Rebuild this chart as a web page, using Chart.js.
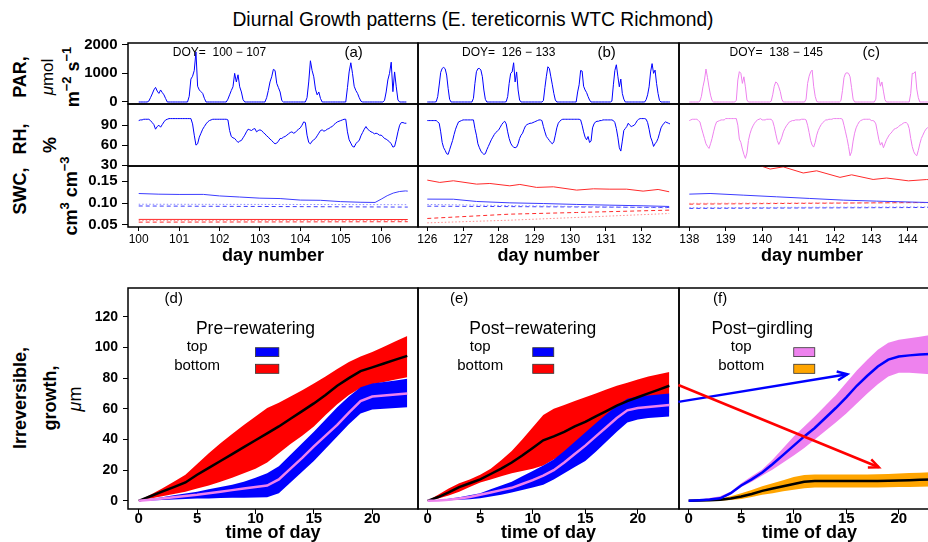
<!DOCTYPE html>
<html>
<head>
<meta charset="utf-8">
<title>Diurnal Growth patterns</title>
<script src="https://cdn.jsdelivr.net/npm/chart.js@4.4.1/dist/chart.umd.min.js"></script>
<style>
  body { margin: 0; background: #fff; }
  #page { position: relative; width: 928px; height: 542px; overflow: hidden; font-family: "Liberation Sans", Arial, sans-serif; color: #000; }
  #page canvas { position: absolute; }
  .t { position: absolute; white-space: nowrap; transform: translate(-50%, -50%); line-height: 1; }
  .r { transform: translate(-50%, -50%) rotate(-90deg); font-weight: bold; font-size: 18px; }
  sup { font-size: 72%; vertical-align: 0.6em; line-height: 0; }
</style>
</head>
<body>
<div id="page">
  <div class="t" style="left:473px;top:20px;font-size:19.3px">Diurnal Growth patterns (E. tereticornis WTC Richmond)</div>
  <div class="t r" style="left:20px;top:77px">PAR,</div>
  <div class="t r" style="left:47px;top:77px;font-weight:normal;font-size:17px"><i>μ</i>mol</div>
  <div class="t r" style="left:73px;top:77px">m<sup>−2</sup> s<sup>−1</sup></div>
  <div class="t r" style="left:20px;top:139px">RH,</div>
  <div class="t r" style="left:50px;top:145px">%</div>
  <div class="t r" style="left:20px;top:191px">SWC,</div>
  <div class="t r" style="left:71px;top:196px">cm<sup>3</sup> cm<sup>−3</sup></div>
  <div class="t r" style="left:20px;top:398px">Irreversible,</div>
  <div class="t r" style="left:50px;top:398px">growth,</div>
  <div class="t r" style="left:75px;top:399px;font-weight:normal"><i>μ</i>m</div>
</div>
<script>
Chart.defaults.font.family = '"Liberation Sans", Arial, sans-serif';
Chart.defaults.color = '#000';

// ---------- top panels: hourly PAR and RH, one row per day ----------
const dayStartA = 100, dayStartB = 126, dayStartC = 138;

const parA = [
  [0,0,0,0,0,0,30,150,280,420,510,380,300,420,330,250,120,0,0,0,0,0,0,0],
  [0,0,0,0,0,0,200,800,900,1100,1750,550,420,360,300,130,0,0,0,0,0,0,0,0],
  [0,0,0,0,0,100,250,400,530,1000,700,950,530,350,80,0,0,0,0,0,0,0,0,0],
  [0,0,0,0,150,400,700,880,1140,1100,650,500,350,50,0,0,0,0,0,0,0,0,0,0],
  [0,0,0,0,150,700,1440,1100,880,450,250,350,120,0,0,0,0,0,0,0,0,0,0,0],
  [0,0,0,0,500,1050,1370,1000,550,400,300,150,30,0,0,0,0,0,0,0,0,0,0,0],
  [0,0,50,350,770,1000,1390,360,1050,530,70,0,0,0,0,0]
];
const rhA = [
  [97,98,98,99,99,99,99,97,94,91,84,88,90,87,91,95,98,99,100,100,100,100,100,100],
  [100,100,100,100,100,100,100,100,92,75,60,62,72,78,84,88,92,95,97,98,99,99,99,99],
  [99,99,99,99,99,98,82,73,71,70,67,64,66,67,71,75,80,84,83,82,84,85,80,82],
  [83,82,79,77,74,72,69,67,64,62,63,66,70,70,72,73,75,77,79,80,78,79,82,84],
  [86,90,95,94,75,64,62,66,68,70,74,78,82,83,81,82,84,85,87,88,91,93,95,96],
  [97,98,99,99,80,68,63,58,57,62,65,67,74,79,84,88,84,82,80,79,77,78,77,75],
  [75,73,70,69,67,65,62,57,58,68,80,90,94,94,93,93]
];
const parB = [
  [0,0,0,0,0,0,10,186,592,1034,1173,1208,1162,941,476,93,0,0,0,0,0,0,0,0],
  [0,0,0,0,0,0,0,128,650,1057,1162,1173,1115,883,418,93,0,0,0,0,0,0,0,0],
  [0,0,0,0,0,10,186,650,1000,1050,1370,700,1050,420,70,0,0,0,0,0,0,0,0,0],
  [0,0,0,0,0,0,50,500,900,1230,1170,880,600,300,70,0,0,0,0,0,0,0,0,0],
  [0,0,0,0,0,350,600,1100,1080,550,420,330,190,70,0,0,0,0,0,0,0,0,0,0],
  [0,0,0,0,30,600,1100,1300,900,530,800,300,100,0,0,0,0,0,0,0,0,0,0,0],
  [0,0,0,80,250,530,1050,1340,1000,1115,650,300,50,0,0,0,0,0,0,0]
];
const rhB = [
  [97,97,97,97,97,97,97,95,93,80,64,56,52,47,46,53,60,67,76,84,90,95,96,97],
  [98,98,98,98,98,98,98,98,85,75,62,56,51,48,46,47,53,58,63,68,72,76,79,81],
  [83,87,91,94,96,92,80,70,63,59,57,56,57,62,70,75,78,84,89,91,92,93,93,94],
  [95,96,97,98,98,97,88,80,73,70,67,64,62,65,75,86,93,96,98,99,99,99,99,99],
  [99,99,99,99,99,99,99,98,90,80,72,68,73,64,66,86,92,95,96,96,97,97,98,98],
  [98,98,98,98,98,97,94,85,72,56,51,66,82,85,88,93,90,88,89,90,93,97,99,100],
  [100,100,100,99,94,84,72,66,58,62,65,70,78,86,90,93,95,94,93,92]
];
const parC = [
  [0,0,0,0,0,0,0,30,200,530,770,1150,850,520,240,50,0,0,0,0,0,0,0,0],
  [0,0,0,0,0,0,0,60,770,1060,1000,650,880,530,70,0,0,0,0,0,0,0,0,0],
  [0,0,0,0,0,0,30,250,550,700,660,530,360,100,0,0,0,0,0,0,0,0,0,0],
  [0,0,0,0,0,100,650,900,1050,1115,550,200,20,0,0,0,0,0,0,0,0,0,0,0],
  [0,0,0,0,50,400,850,1000,1020,1000,880,500,100,0,0,0,0,0,0,0,0,0,0,0],
  [0,0,0,100,850,830,550,700,380,80,0,0,0,0,0,0,0,0,0,0,0,0,0,0],
  [0,0,300,1000,1000,1060,450,150,0,0,0,0,0,0,0,0,0,0,0,0]
];
const rhC = [
  [97,98,99,99,99,99,97,95,86,78,70,62,58,55,62,70,80,89,95,96,97,98,98,98],
  [100,100,100,100,100,100,100,100,90,69,64,54,46,40,48,67,77,84,89,93,96,98,99,100],
  [98,98,98,99,99,99,99,96,88,77,67,61,66,72,80,85,89,92,95,96,97,97,98,98],
  [98,98,99,99,99,98,90,79,67,60,57,64,75,82,87,91,94,96,98,98,99,99,99,100],
  [100,100,100,100,100,99,90,80,70,58,44,50,66,78,86,91,95,97,98,99,99,99,99,99],
  [97,97,96,92,80,68,60,64,56,62,68,72,76,78,81,84,85,86,88,90,91,93,94,94],
  [92,85,70,58,50,46,44,52,62,70,75,80,84,86,88,90,92,94,95,96]
];

// ---------- soil water content, [day, value] ----------
const swcAblue = [[100,0.122],[100.5,0.1205],[101,0.1199],[101.6,0.120],[102,0.1165],[102.5,0.114],[103,0.1114],[103.5,0.1105],[104,0.107],[104.5,0.1065],[105,0.1035],[105.5,0.102],[105.85,0.1016],[106,0.109],[106.15,0.117],[106.3,0.123],[106.45,0.1265],[106.6,0.128],[106.66,0.1275]];
const swcAblueDot = [[100,0.0975],[106.66,0.0965]];
const swcAblueDash = [[100,0.0935],[106.66,0.091]];
const swcAred = [[100,0.0628],[106.66,0.0625]];
const swcAredDot = [[100,0.0600],[106.66,0.0605]];
const swcAredDash = [[100,0.0565],[106.66,0.0575]];

const swcBblue = [[126,0.1092],[126.73,0.109],[127.38,0.1038],[128.31,0.1007],[129.25,0.0991],[130.18,0.097],[131.11,0.0954],[132.04,0.0939],[132.77,0.0924]];
const swcBblueDot = [[126,0.097],[132.77,0.0893]];
const swcBblueDash = [[126,0.0931],[132.77,0.0901]];
const swcBred = [[126,0.1527],[126.35,0.1474],[126.73,0.1512],[127.38,0.1435],[127.75,0.145],[128.31,0.1396],[128.59,0.1428],[129.06,0.136],[129.53,0.1374],[130.18,0.1298],[130.65,0.1328],[131.11,0.132],[131.58,0.132],[132.04,0.1275],[132.46,0.1313],[132.77,0.126]];
const swcBredDot = [[126,0.0549],[128.31,0.061],[130.18,0.0672],[132.77,0.0763]];
const swcBredDash = [[126,0.0649],[128.31,0.0748],[130.18,0.0786],[132.77,0.084]];

const swcCblue = [[138,0.1206],[138.57,0.1221],[139.48,0.1183],[140.4,0.1145],[141.31,0.1107],[142.23,0.1069],[143.14,0.1046],[144.56,0.1015],[145,0.101]];
const swcCblueDot = [[138,0.0895],[145,0.0915]];
const swcCblueDash = [[138,0.0879],[145,0.0902]];
const swcCred = [[138,0.215],[139,0.205],[139.6,0.193],[139.94,0.186],[140.22,0.178],[140.58,0.183],[141.13,0.169],[141.5,0.174],[142.14,0.159],[142.46,0.1648],[143.05,0.1542],[143.42,0.1575],[144.02,0.151],[144.52,0.154],[145,0.152]];
const swcCredDot = [[138,0.0995],[145,0.1012]];
const swcCredDash = [[138,0.0977],[145,0.1018]];

// ---------- bottom panels: growth by hour ----------
const hours = [0,1,2,3,4,5,6,7,8,9,10,11,12,13,14,15,16,17,18,19,20,21,22,23];

const dBotMean = [0,3,6,9,12,17,21.5,26,30.5,35,39.5,44,48.5,53.5,58.5,63.5,69,75,80,84.5,87,89.5,92,94.5];
const dBotHi   = [0,4,8,12.5,17,24,31,37.5,43.5,49.5,55,60.5,64,68,72,76.5,81,86,90.5,94,97,100.5,104,107.5];
const dBotLo   = [0,1.5,3,4.5,6,8,10,12.5,15,18,21,25,31,37,42.5,48.5,56,63,69,73.5,76,77.5,79,80.5];
const dTopMean = [0,0.8,1.6,2.4,3.2,4,5,6,7,8,9,10,14,21,28,35.5,42.5,49.5,57.5,65,68,68.7,69.3,70];
const dTopHi   = [0,1.2,2.4,3.6,4.8,6,7.5,9,10.5,12.5,15,18,22.5,30,37.5,45,53,61,68,74,76.5,77.5,78.5,79.5];
const dTopLo   = [0,0.3,0.6,0.9,1.2,1.5,1.6,1.8,2,2.1,2.2,2.4,5,12,19,26,34,42,50,57,59.5,60,60.5,61];

const eBotMean = [0,2.5,5.5,9,11.5,14,17.5,21,25,29.5,34.5,39.5,42,45,48.5,51.5,55,58.5,62,65,67.5,70,72.5,75];
const eBotHi   = [0,4,8,11.5,14,17,21,26.5,32.5,40,48,56,60,62.5,65,67.5,70,72.5,75,77,79,81,82.5,84];
const eBotLo   = [0,1.5,3.5,6,9,12,14,16,18,19.5,21,23,27,31,35,39,43,47,50,53,54.5,55.5,56.5,57.5];
const eTopMean = [0,0.3,0.8,1.5,2.5,4,5.5,7,8.5,11,13.5,16.5,20,25,30.5,36,42,48,54,59,60.5,61.2,61.8,62.5];
const eTopHi   = [0,0.6,1.4,2.4,3.6,5,7.5,10,12.5,16,19.5,23,27,32.5,38.5,44.5,50.5,56.5,62,66.5,68,68.7,69.3,70];
const eTopLo   = [0,0.2,0.4,0.7,1.1,1.7,2.8,4,5.5,7,8.7,10.5,14,18,22,26,32,38.5,45,51,53,54,54.5,55];

const fTopMean = [0,0.4,0.9,1.7,5,10,14,18.5,24,30,36,42,47.5,54,60.5,67.5,75,81.5,87.5,92,94,94.8,95.3,95.7];
const fTopHi   = [0,0.8,1.8,3,6,11.5,16,20.5,27,34.5,42,48.5,55,62,69,77,85,92,98.5,103,105,106,107,108];
const fTopLo   = [0,0.2,0.5,1,4,9,12.5,16.5,20.5,25,29.5,34.5,40,45.5,51,57,63.5,70,76,81,83.5,83.5,83,82.5];
const fBotMean = [0,0.2,0.4,0.7,1.5,2.8,4.5,6.5,8,9.5,11,12.5,13,13,13,13,13,13,13,13.1,13.3,13.5,13.7,13.9];
const fBotHi   = [0,0.4,0.9,1.6,3,5,7,9.5,11.5,13.5,15.5,16.8,17.2,17.2,17.2,17.2,17.2,17.2,17.3,17.5,17.8,18.1,18.4,18.7];
const fBotLo   = [0,0,0,0,0.5,1.2,2.5,4,5,6.2,7.3,8.3,8.7,8.7,8.7,8.7,8.7,8.7,8.7,8.8,9,9.1,9.2,9.3];

// ---------- tick labels ----------
const dayTicksA = [100,101,102,103,104,105,106];
const dayTicksB = [126,127,128,129,130,131,132];
const dayTicksC = [138,139,140,141,142,143,144];
const parTicks = [0,1000,2000];
const rhTicks = [30,60,90];
const swcTicks = [0.05,0.10,0.15];
const hourTicks = [0,5,10,15,20];
const growthTicks = [0,20,40,60,80,100,120];

// ---------- helpers ----------
function timeSeries(start, days) {
  const pts = [];
  days.forEach((vals, d) => vals.forEach((v, h) => pts.push({ x: start + d + h / 24, y: v })));
  return pts;
}
const pairs = arr => arr.map(p => ({ x: p[0], y: p[1] }));
const hourly = vals => vals.map((v, i) => ({ x: hours[i], y: v }));

function line(data, color, width, dash, order) {
  return { data, borderColor: color, borderWidth: width, borderDash: dash || [], pointRadius: 0,
           tension: 0, fill: false, order: order || 0 };
}
function band(hi, lo, color, order) {
  return [
    { data: hourly(hi), borderColor: 'rgba(0,0,0,0)', borderWidth: 0, pointRadius: 0, tension: 0,
      fill: '+1', backgroundColor: color, order },
    { data: hourly(lo), borderColor: 'rgba(0,0,0,0)', borderWidth: 0, pointRadius: 0, tension: 0,
      fill: false, order }
  ];
}
const fixedTicks = arr => s => { s.ticks = arr.map(v => ({ value: v })); };
const tickGrid = len => ({ drawOnChartArea: false, drawTicks: true, tickLength: len, color: '#000', lineWidth: 1 });
const FONT = '"Liberation Sans", Arial, sans-serif';

const frame = {
  id: 'frame',
  afterDatasetsDraw(chart) {
    const { ctx, chartArea: a } = chart;
    ctx.save();
    ctx.strokeStyle = '#000';
    ctx.lineWidth = 1.5;
    ctx.strokeRect(a.left, a.top, a.right - a.left, a.bottom - a.top);
    ctx.restore();
  }
};

function notes(items) {
  return {
    id: 'notes',
    afterDatasetsDraw(chart) {
      const { ctx } = chart, x = chart.scales.x, y = chart.scales.y;
      ctx.save();
      items.forEach(it => {
        if (it.text) {
          ctx.font = it.font;
          ctx.fillStyle = '#000';
          ctx.textAlign = 'center';
          ctx.textBaseline = 'middle';
          ctx.fillText(it.text, x.getPixelForValue(it.x), y.getPixelForValue(it.y));
        }
        if (it.box) {
          const x0 = x.getPixelForValue(it.box[0]), x1 = x.getPixelForValue(it.box[1]);
          const y0 = y.getPixelForValue(it.box[2]), y1 = y.getPixelForValue(it.box[3]);
          ctx.fillStyle = it.color;
          ctx.fillRect(x0, y0, x1 - x0, y1 - y0);
          ctx.strokeStyle = '#333';
          ctx.lineWidth = 0.8;
          ctx.strokeRect(x0, y0, x1 - x0, y1 - y0);
        }
        if (it.arrow) {
          const x0 = x.getPixelForValue(it.arrow[0]), y0 = y.getPixelForValue(it.arrow[1]);
          const x1 = x.getPixelForValue(it.arrow[2]), y1 = y.getPixelForValue(it.arrow[3]);
          const ang = Math.atan2(y1 - y0, x1 - x0), L = 11, sp = 0.42;
          ctx.strokeStyle = it.color;
          ctx.lineWidth = 2.5;
          ctx.beginPath(); ctx.moveTo(x0, y0); ctx.lineTo(x1, y1); ctx.stroke();
          ctx.beginPath();
          ctx.moveTo(x1 - L * Math.cos(ang - sp), y1 - L * Math.sin(ang - sp));
          ctx.lineTo(x1, y1);
          ctx.lineTo(x1 - L * Math.cos(ang + sp), y1 - L * Math.sin(ang + sp));
          ctx.stroke();
        }
      });
      ctx.restore();
    }
  };
}

const page = document.getElementById('page');
const P = 20; // spare room round each plot box so tick labels never push it

// area = [left, top, right, bottom] of the plot box on the page
function panel(area, yW, xH, datasets, xs, ys, extra) {
  const cv = document.createElement('canvas');
  cv.width = area[2] - area[0] + (yW || P) + P;
  cv.height = area[3] - area[1] + P + (xH || P);
  cv.style.left = (area[0] - (yW || P)) + 'px';
  cv.style.top = (area[1] - P) + 'px';
  cv.style.width = cv.width + 'px';
  cv.style.height = cv.height + 'px';
  page.appendChild(cv);
  return new Chart(cv, {
    type: 'line',
    data: { datasets },
    options: {
      responsive: false, animation: false, devicePixelRatio: 1, events: [],
      layout: { autoPadding: false, padding: { left: yW ? 0 : P, right: P, top: P, bottom: xH ? 0 : P } },
      plugins: { legend: { display: false }, tooltip: { enabled: false } },
      scales: {
        x: Object.assign({ type: 'linear', display: xH > 0, afterFit: s => { s.height = xH; } }, xs),
        y: Object.assign({ type: 'linear', display: yW > 0, afterFit: s => { s.width = yW; } }, ys)
      }
    },
    plugins: [frame, notes(extra || [])]
  });
}

function dayAxis(min, max, ticks) {
  return { min, max, afterBuildTicks: fixedTicks(ticks), grid: tickGrid(4), border: { display: false },
    ticks: { font: { size: 12 }, padding: 1, maxRotation: 0, autoSkip: false },
    title: { display: true, text: 'day number', font: { size: 18, weight: 'bold' }, padding: 0 } };
}
function leftAxis(min, max, ticks, fmt) {
  return { min, max, afterBuildTicks: fixedTicks(ticks), grid: tickGrid(6), border: { display: false },
    ticks: { font: { size: 15, weight: 'bold' }, padding: 4.5, autoSkip: false, callback: fmt || (v => v) } };
}
const parRange = [-70, 2060], rhRange = [28.5, 122], swcRange = [0.0454, 0.185];

const cols = [
  { x0: 128, x1: 418, yW: 128, xr: [99.735, 106.913], ticks: dayTicksA, start: dayStartA, par: parA, rh: rhA, color: '#0000ff',
    swc: [swcAblue, swcAblueDot, swcAblueDash, swcAred, swcAredDot, swcAredDash],
    doy: 'DOY=  100 − 107', dx: 102.0, tag: '(a)', tx: 105.32 },
  { x0: 418, x1: 679, yW: 0, xr: [125.74, 133.045], ticks: dayTicksB, start: dayStartB, par: parB, rh: rhB, color: '#0000ff',
    swc: [swcBblue, swcBblueDot, swcBblueDash, swcBred, swcBredDot, swcBredDash],
    doy: 'DOY=  126 − 133', dx: 128.28, tag: '(b)', tx: 131.02 },
  { x0: 679, x1: 945, yW: 0, xr: [137.717, 145.025], ticks: dayTicksC, start: dayStartC, par: parC, rh: rhC, color: '#ee82ee',
    swc: [swcCblue, swcCblueDot, swcCblueDash, swcCred, swcCredDot, swcCredDash],
    doy: 'DOY=  138 − 145', dx: 140.39, tag: '(c)', tx: 143.0 }
];

cols.forEach(c => {
  const xs = { min: c.xr[0], max: c.xr[1] };
  panel([c.x0, 43, c.x1, 104], c.yW, 0,
    [line(timeSeries(c.start, c.par), c.color, 1)],
    xs, leftAxis(parRange[0], parRange[1], parTicks),
    [{ text: c.doy, x: c.dx, y: 1718, font: '12px ' + FONT },
     { text: c.tag, x: c.tx, y: 1718, font: '15px ' + FONT }]);
  panel([c.x0, 104, c.x1, 166], c.yW, 0,
    [line(timeSeries(c.start, c.rh), c.color, 1)],
    xs, leftAxis(rhRange[0], rhRange[1], rhTicks));
  const s = c.swc;
  panel([c.x0, 166, c.x1, 227], c.yW, 40,
    [line(pairs(s[0]), '#3c3cff', 1), line(pairs(s[1]), '#8c8cff', 1, [1.5, 2]), line(pairs(s[2]), '#3c3cff', 1, [4, 3]),
     line(pairs(s[3]), '#ff2a2a', 1), line(pairs(s[4]), '#ff8c8c', 1, [1.5, 2]), line(pairs(s[5]), '#ff2a2a', 1, [4, 3])],
    dayAxis(c.xr[0], c.xr[1], c.ticks), leftAxis(swcRange[0], swcRange[1], swcTicks, v => v.toFixed(2)));
});

// ---------- bottom row ----------
const hourAxis = { min: -0.92, max: 23.92, afterBuildTicks: fixedTicks(hourTicks), grid: tickGrid(5), border: { display: false },
  ticks: { font: { size: 15, weight: 'bold' }, padding: -4, maxRotation: 0, autoSkip: false },
  title: { display: true, text: 'time of day', font: { size: 18, weight: 'bold' }, padding: 0 } };
const growthAxis = { min: -5.3, max: 138.7, afterBuildTicks: fixedTicks(growthTicks), grid: tickGrid(5), border: { display: false },
  ticks: { font: { size: 14, weight: 'bold' }, padding: 5, autoSkip: false } };

function legendNotes(tag, title, titleX, topColor, botColor) {
  return [
    { text: tag, x: 3, y: 131.5, font: '15px ' + FONT },
    { text: title, x: titleX, y: 111.8, font: '17.5px ' + FONT },
    { text: 'top', x: 5, y: 100.4, font: '15px ' + FONT },
    { text: 'bottom', x: 5, y: 88, font: '15px ' + FONT },
    { box: [10, 12, 99.8, 94], color: topColor },
    { box: [10, 12, 89, 83.1], color: botColor }
  ];
}

panel([128, 288, 418, 509], 128, 35,
  [line(hourly(dTopMean), '#ee82ee', 2.5, null, 0), line(hourly(dBotMean), '#000', 2.5, null, 1),
   ...band(dTopHi, dTopLo, '#0000ff', 2), ...band(dBotHi, dBotLo, '#ff0000', 3)],
  hourAxis, growthAxis, legendNotes('(d)', 'Pre−rewatering', 10, '#0000ff', '#ff0000'));

panel([418, 288, 679, 509], 0, 35,
  [line(hourly(eTopMean), '#ee82ee', 2.5, null, 0), line(hourly(eBotMean), '#000', 2.5, null, 1),
   ...band(eTopHi, eTopLo, '#0000ff', 2), ...band(eBotHi, eBotLo, '#ff0000', 3)],
  hourAxis, growthAxis, legendNotes('(e)', 'Post−rewatering', 10, '#0000ff', '#ff0000'));

panel([679, 288, 940, 509], 0, 35,
  [line(hourly(fTopMean), '#0000ff', 2.5, null, 0), line(hourly(fBotMean), '#000', 2.5, null, 1),
   ...band(fTopHi, fTopLo, '#ee82ee', 2), ...band(fBotHi, fBotLo, '#ffa500', 3)],
  hourAxis, growthAxis,
  legendNotes('(f)', 'Post−girdling', 7, '#ee82ee', '#ffa500').concat([
    { arrow: [-0.98, 64.5, 15.1, 82.5], color: '#0000ff' },
    { arrow: [-0.98, 75.5, 18.1, 21.9], color: '#ff0000' }
  ]));
</script>
</body>
</html>
